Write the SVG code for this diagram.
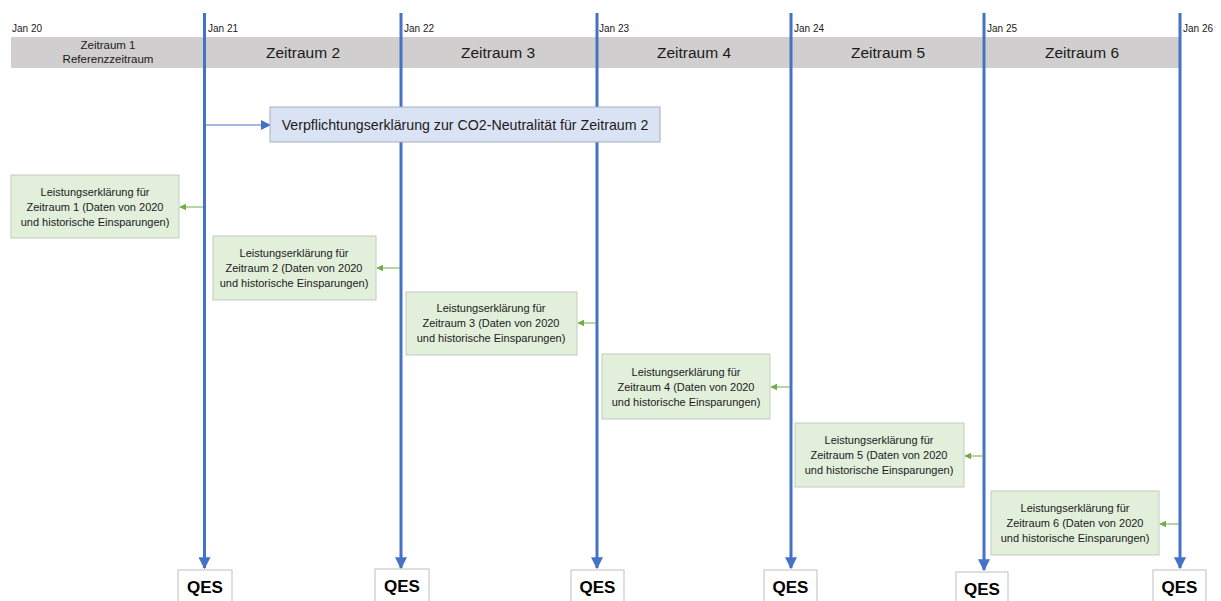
<svg xmlns="http://www.w3.org/2000/svg" width="1221" height="601" viewBox="0 0 1221 601">
<defs>
<style>
text{font-family:"Liberation Sans",Arial,sans-serif;fill:#1a1a1a}
.jan{font-size:10px}
.zt{font-size:15.5px;text-anchor:middle}
.zs{font-size:11.5px;text-anchor:middle}
.gb{fill:#e2efda;stroke:#c4ccc0;stroke-width:1}
.gt{font-size:11px;text-anchor:middle}
.tl{stroke:#4472c4;stroke-width:3}
.qb{fill:#ffffff;stroke:#bfbfbf;stroke-width:1}
.qt{font-size:17px;font-weight:bold;text-anchor:middle;fill:#000}
.ga{stroke:#70ad47;stroke-width:1;marker-end:url(#gArr)}
</style>
<marker id="bArr" viewBox="0 0 10 10" refX="9" refY="5" markerWidth="10" markerHeight="10" markerUnits="userSpaceOnUse" orient="auto"><path d="M0,0 L10,5 L0,10 z" fill="#4472c4"/></marker>
<marker id="gArr" viewBox="0 0 10 10" refX="9" refY="5" markerWidth="7" markerHeight="7" markerUnits="userSpaceOnUse" orient="auto"><path d="M0,0 L10,5 L0,10 z" fill="#70ad47"/></marker>
<marker id="tArr" viewBox="0 0 10 10" refX="9" refY="5" markerWidth="12" markerHeight="12" markerUnits="userSpaceOnUse" orient="auto"><path d="M0,0 L10,5 L0,10 z" fill="#4472c4"/></marker>
</defs>
<rect width="1221" height="601" fill="#ffffff"/>
<g id="bar">
<rect x="11" y="37" width="1170" height="31" fill="#d0cece"/>
<text class="zs" x="108" y="49">Zeitraum 1</text>
<text class="zs" x="108" y="63">Referenzzeitraum</text>
<text class="zt" x="303" y="58">Zeitraum 2</text>
<text class="zt" x="498" y="58">Zeitraum 3</text>
<text class="zt" x="694" y="58">Zeitraum 4</text>
<text class="zt" x="888" y="58">Zeitraum 5</text>
<text class="zt" x="1082" y="58">Zeitraum 6</text>
</g>
<g id="dates">
<text class="jan" x="12" y="32">Jan 20</text>
<text class="jan" x="208" y="32">Jan 21</text>
<text class="jan" x="404" y="32">Jan 22</text>
<text class="jan" x="599" y="32">Jan 23</text>
<text class="jan" x="794" y="32">Jan 24</text>
<text class="jan" x="987" y="32">Jan 25</text>
<text class="jan" x="1183" y="32">Jan 26</text>
</g>
<g id="connectors">
<line class="tl" x1="204.5" y1="13" x2="204.5" y2="568" marker-end="url(#tArr)"/>
<line class="tl" x1="401" y1="13" x2="401" y2="568" marker-end="url(#tArr)"/>
<line class="tl" x1="597" y1="13" x2="597" y2="568" marker-end="url(#tArr)"/>
<line class="tl" x1="791" y1="13" x2="791" y2="568" marker-end="url(#tArr)"/>
<line class="tl" x1="984" y1="13" x2="984" y2="570" marker-end="url(#tArr)"/>
<line class="tl" x1="1180" y1="13" x2="1180" y2="568" marker-end="url(#tArr)"/>
<line x1="206" y1="125" x2="270" y2="125" stroke="#4472c4" stroke-width="1" marker-end="url(#bArr)"/>
<line class="ga" x1="203" y1="207" x2="180" y2="207"/>
<line class="ga" x1="400" y1="268" x2="377" y2="268"/>
<line class="ga" x1="596" y1="323" x2="578" y2="323"/>
<line class="ga" x1="790" y1="387" x2="771" y2="387"/>
<line class="ga" x1="983" y1="456" x2="965" y2="456"/>
<line class="ga" x1="1179" y1="524" x2="1160" y2="524"/>
</g>
<g id="commit">
<rect x="270" y="107" width="390" height="35" fill="#dae3f3" stroke="#a6adbb" stroke-width="1"/>
<text x="465" y="130" font-size="14.2" text-anchor="middle">Verpflichtungserklärung zur CO2-Neutralität für Zeitraum 2</text>
</g>
<g id="le1">
<rect class="gb" x="11" y="175" width="168" height="63"/>
<text class="gt" x="95" y="196">Leistungserklärung für</text>
<text class="gt" x="95" y="211">Zeitraum 1 (Daten von 2020</text>
<text class="gt" x="95" y="226">und historische Einsparungen)</text>
</g>
<g id="le2">
<rect class="gb" x="213" y="236" width="163" height="64"/>
<text class="gt" x="294" y="257">Leistungserklärung für</text>
<text class="gt" x="294" y="272">Zeitraum 2 (Daten von 2020</text>
<text class="gt" x="294" y="287">und historische Einsparungen)</text>
</g>
<g id="le3">
<rect class="gb" x="406" y="292" width="171" height="63"/>
<text class="gt" x="491" y="312">Leistungserklärung für</text>
<text class="gt" x="491" y="327">Zeitraum 3 (Daten von 2020</text>
<text class="gt" x="491" y="342">und historische Einsparungen)</text>
</g>
<g id="le4">
<rect class="gb" x="602" y="354" width="168" height="65"/>
<text class="gt" x="686" y="376">Leistungserklärung für</text>
<text class="gt" x="686" y="391">Zeitraum 4 (Daten von 2020</text>
<text class="gt" x="686" y="406">und historische Einsparungen)</text>
</g>
<g id="le5">
<rect class="gb" x="795" y="423" width="169" height="64"/>
<text class="gt" x="879" y="444">Leistungserklärung für</text>
<text class="gt" x="879" y="459">Zeitraum 5 (Daten von 2020</text>
<text class="gt" x="879" y="474">und historische Einsparungen)</text>
</g>
<g id="le6">
<rect class="gb" x="991" y="491" width="168" height="64"/>
<text class="gt" x="1075" y="512">Leistungserklärung für</text>
<text class="gt" x="1075" y="527">Zeitraum 6 (Daten von 2020</text>
<text class="gt" x="1075" y="542">und historische Einsparungen)</text>
</g>
<g id="qes1"><rect class="qb" x="178" y="570" width="54" height="40"/><text class="qt" x="205" y="593">QES</text></g>
<g id="qes2"><rect class="qb" x="375" y="569" width="54" height="40"/><text class="qt" x="402" y="592">QES</text></g>
<g id="qes3"><rect class="qb" x="571" y="570" width="53" height="40"/><text class="qt" x="597.5" y="593">QES</text></g>
<g id="qes4"><rect class="qb" x="764" y="570" width="53" height="40"/><text class="qt" x="790.5" y="593">QES</text></g>
<g id="qes5"><rect class="qb" x="956" y="572" width="52" height="40"/><text class="qt" x="982" y="595">QES</text></g>
<g id="qes6"><rect class="qb" x="1153" y="570" width="53" height="40"/><text class="qt" x="1179.5" y="593">QES</text></g>
</svg>
